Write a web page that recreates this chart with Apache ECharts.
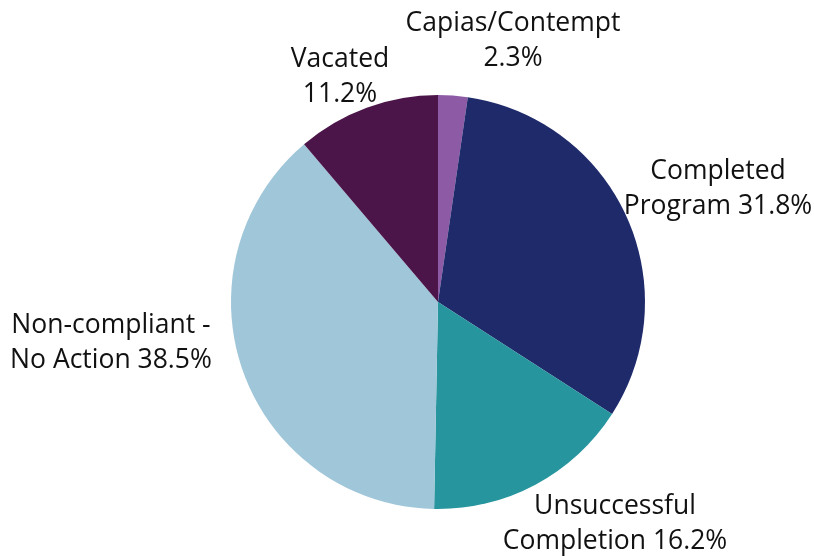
<!DOCTYPE html>
<html>
<head>
<meta charset="utf-8">
<script src="https://cdn.jsdelivr.net/npm/echarts@6/dist/echarts.min.js"></script>
<style>
html,body{margin:0;padding:0;background:#fff;}
#chart{width:814px;height:557px;}
</style>
</head>
<body>
<div id="chart"></div>
<script>
var categories = ["Capias/Contempt", "Completed\nProgram", "Unsuccessful\nCompletion", "Non-compliant -\nNo Action", "Vacated"];
var values = [2.3, 31.8, 16.2, 38.5, 11.2];
var labelTexts = ["Capias/Contempt\n2.3%", "Completed\nProgram 31.8%", "Unsuccessful\nCompletion 16.2%", "Non-compliant -\nNo Action 38.5%", "Vacated\n11.2%"];
var colors = ["#8d5ba6", "#1f2a6b", "#26959e", "#a0c6d9", "#4b1549"];
// label centre positions (layout only)
var labelPos = [[513, 41], [718, 189], [615, 524], [111, 343], [340, 77]];

var myChart = echarts.init(document.getElementById('chart'));
var pieData = [];
for (var i = 0; i < values.length; i++) {
	pieData.push({
		name: categories[i],
		value: values[i],
		itemStyle: {color: colors[i]},
		label: {formatter: labelTexts[i]}
	});
}
myChart.setOption({
	animation: false,
	series: [{
		type: 'pie',
		center: [438, 302],
		radius: 207,
		startAngle: 90,
		clockwise: true,
		label: {
			show: true,
			position: 'outside',
			color: '#111',
			fontFamily: 'Open Sans',
			fontSize: 26.5,
			lineHeight: 35,
			align: 'center',
			overflow: 'none',
			width: 300
		},
		labelLine: {show: false},
		labelLayout: function (params) {
			var p = labelPos[params.dataIndex];
			return {x: p[0], y: p[1], align: 'center', verticalAlign: 'middle'};
		},
		data: pieData
	}]
});
</script>
</body>
</html>
